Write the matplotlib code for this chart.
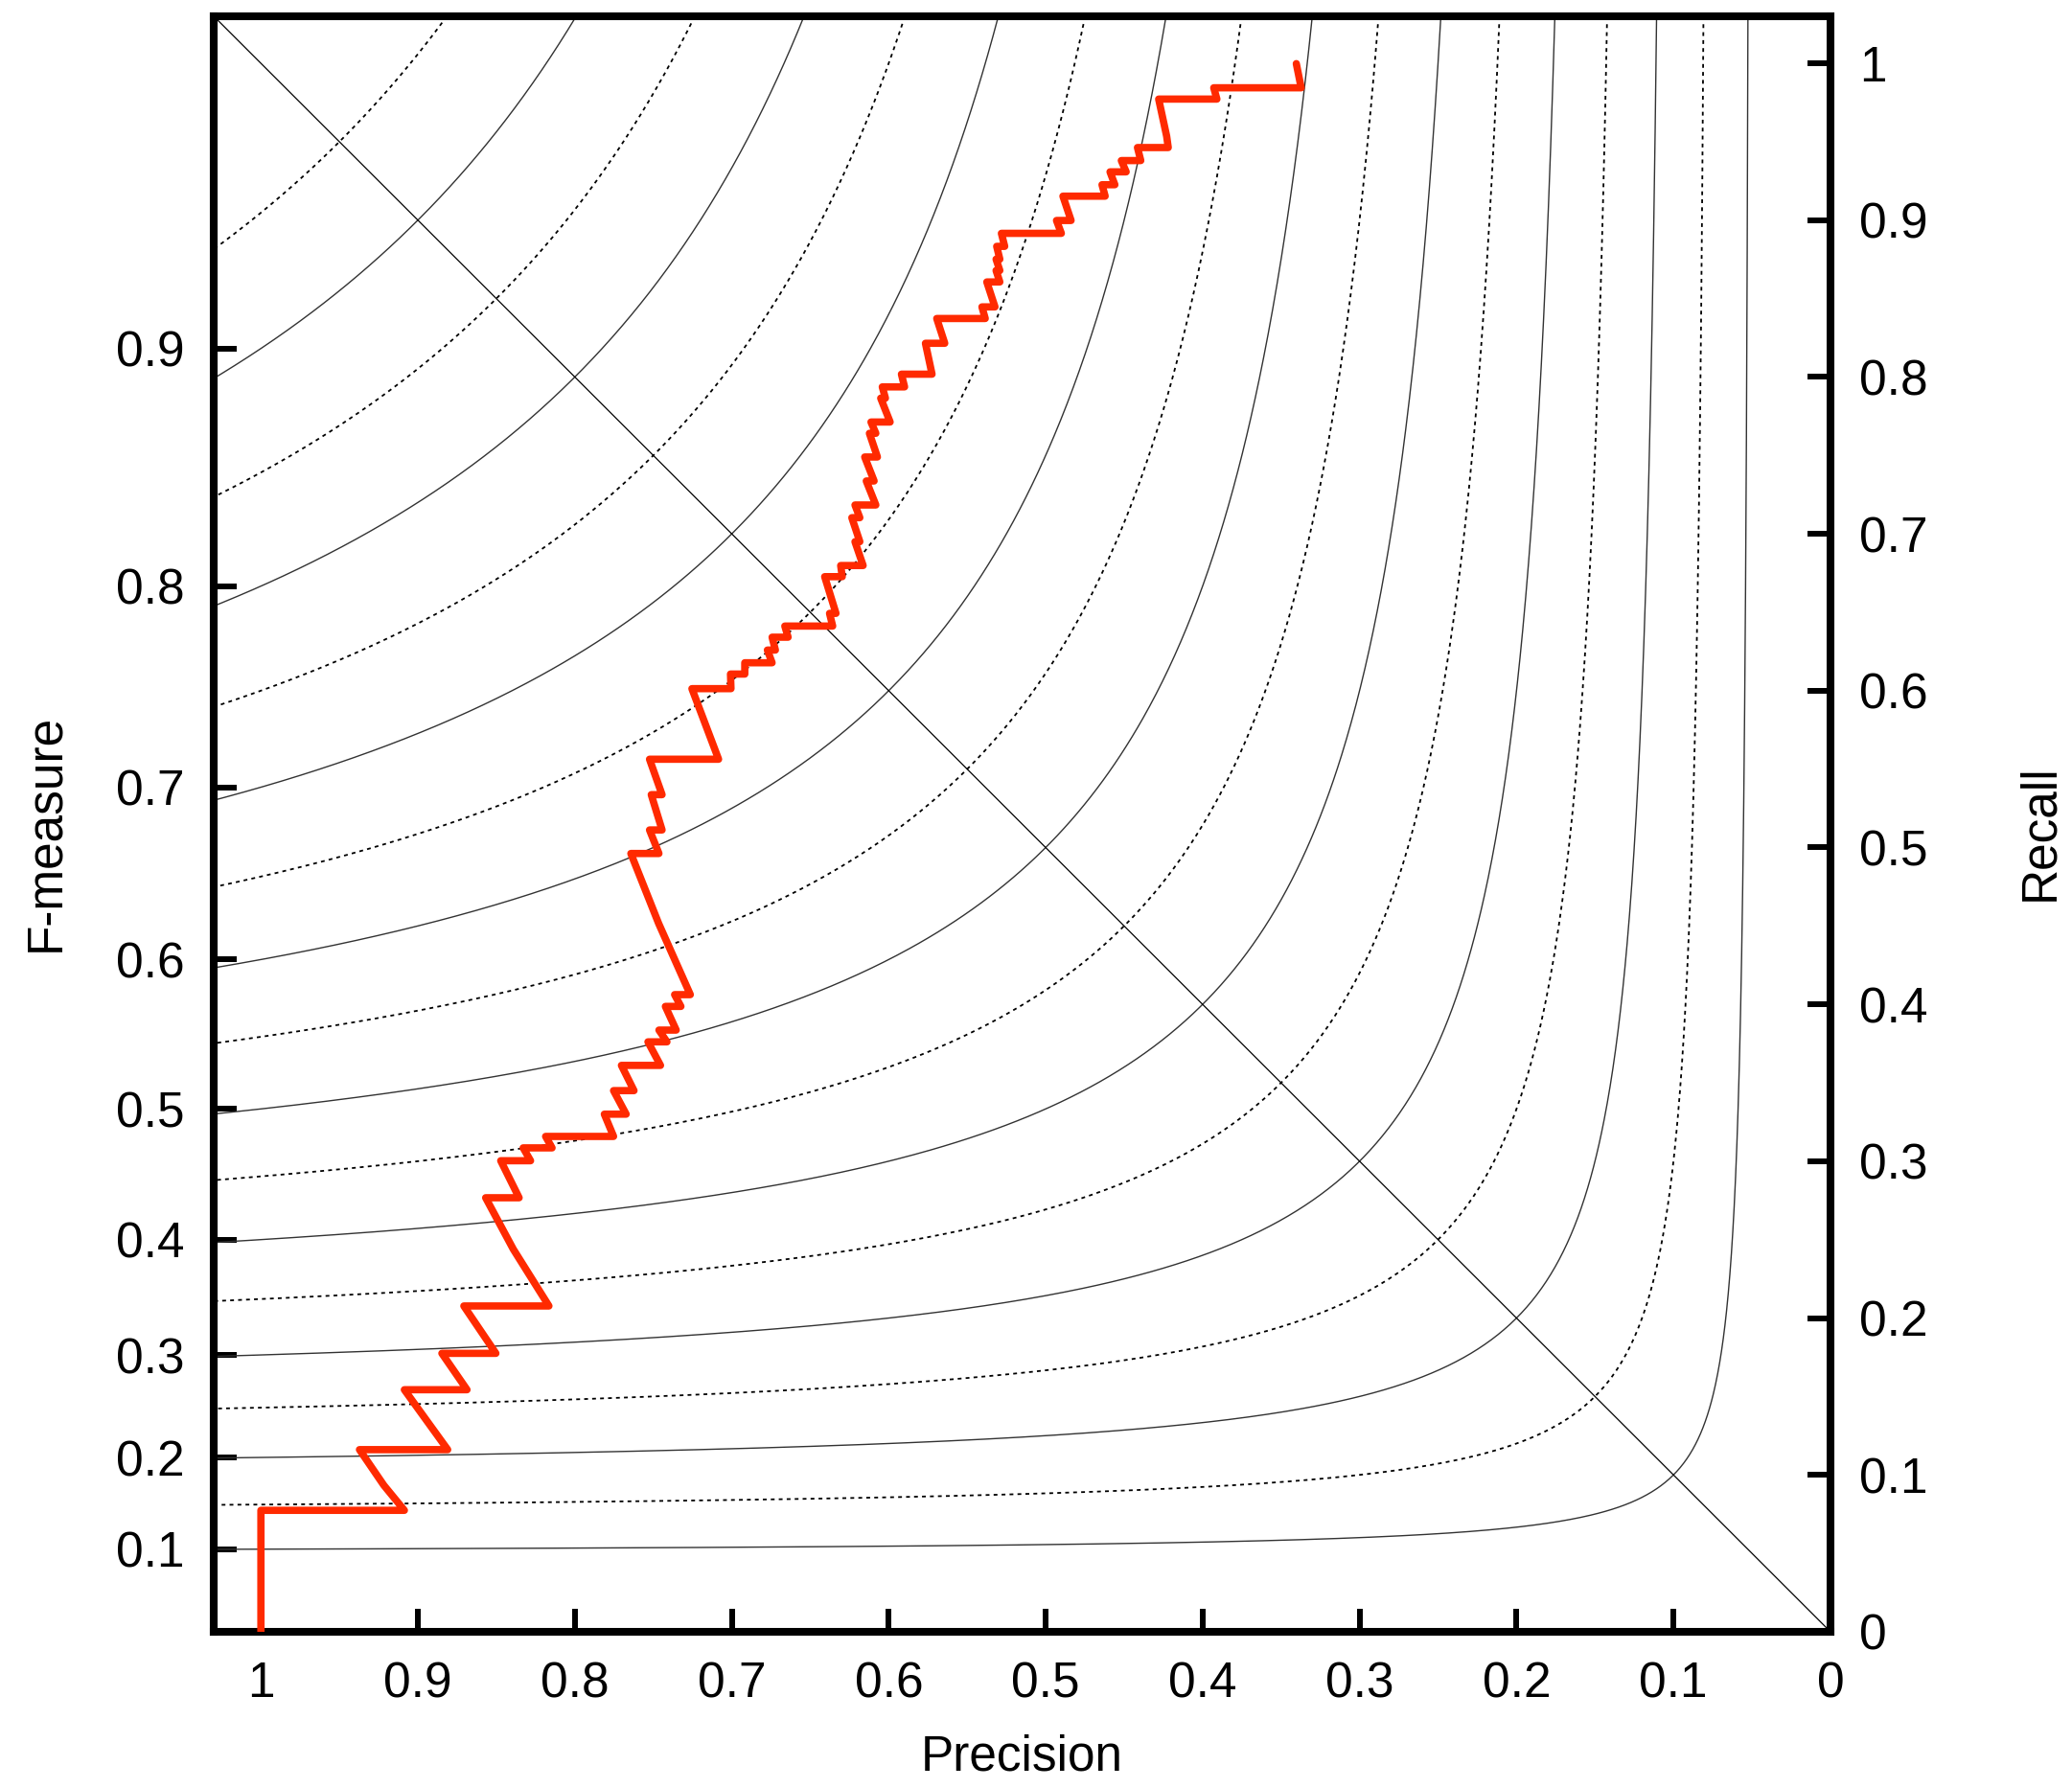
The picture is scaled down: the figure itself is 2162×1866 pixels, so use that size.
import numpy as np
import matplotlib.pyplot as plt

plt.rcParams['font.family'] = ['Liberation Sans', 'DejaVu Sans']

# precision / recall curve
precision = [1.000, 1.000, 0.9086, 0.9217, 0.9372, 0.8810, 0.9086, 0.8687, 0.8847, 0.8503,
             0.8707, 0.8165, 0.8392, 0.8568, 0.8355, 0.8472, 0.8282, 0.8329, 0.8145, 0.8186,
             0.7753, 0.7812, 0.7673, 0.7753, 0.7623, 0.7703, 0.7454, 0.7534, 0.7413, 0.7464,
             0.7354, 0.7423, 0.7324, 0.7364, 0.7264, 0.7466, 0.7643, 0.7464, 0.7524, 0.7444,
             0.7513, 0.7444, 0.7524, 0.7084, 0.7254, 0.7005, 0.7008, 0.6917, 0.6917, 0.6743,
             0.6773, 0.6722, 0.6743, 0.6641, 0.6662, 0.6357, 0.6377, 0.6336, 0.6408, 0.6296,
             0.6306, 0.6163, 0.6215, 0.6184, 0.6235, 0.6184, 0.6215, 0.6082, 0.6143, 0.6093,
             0.6153, 0.6072, 0.6123, 0.6082, 0.6113, 0.5991, 0.6051, 0.6021, 0.6041, 0.5899,
             0.5919, 0.5724, 0.5766, 0.5643, 0.5694, 0.5385, 0.5406, 0.5323, 0.5375, 0.5292,
             0.5316, 0.5292, 0.5316, 0.5292, 0.5312, 0.5261, 0.5282, 0.4900, 0.4931, 0.4838,
             0.4890, 0.4621, 0.4641, 0.4559, 0.4590, 0.4487, 0.4518, 0.4394, 0.4415, 0.4219,
             0.4229, 0.4280, 0.3909, 0.3929, 0.3372, 0.3403]
recall = [0.000, 0.0774, 0.0774, 0.0934, 0.1161, 0.1161, 0.1543, 0.1543, 0.1775, 0.1775,
          0.2077, 0.2077, 0.2439, 0.2767, 0.2767, 0.3003, 0.3003, 0.3085, 0.3085, 0.3158,
          0.3158, 0.3300, 0.3300, 0.3450, 0.3450, 0.3611, 0.3611, 0.3761, 0.3761, 0.3836,
          0.3836, 0.3987, 0.3987, 0.4062, 0.4062, 0.4516, 0.4962, 0.4962, 0.5112, 0.5112,
          0.5337, 0.5337, 0.5563, 0.5563, 0.6013, 0.6013, 0.6106, 0.6106, 0.6178, 0.6178,
          0.6259, 0.6259, 0.6341, 0.6341, 0.6412, 0.6412, 0.6493, 0.6493, 0.6727, 0.6727,
          0.6798, 0.6798, 0.6950, 0.6950, 0.7103, 0.7103, 0.7184, 0.7184, 0.7337, 0.7337,
          0.7490, 0.7490, 0.7641, 0.7641, 0.7713, 0.7713, 0.7865, 0.7865, 0.7937, 0.7937,
          0.8018, 0.8018, 0.8215, 0.8215, 0.8373, 0.8373, 0.8447, 0.8447, 0.8606, 0.8606,
          0.8679, 0.8679, 0.8751, 0.8751, 0.8833, 0.8833, 0.8916, 0.8916, 0.8998, 0.8998,
          0.9153, 0.9153, 0.9226, 0.9226, 0.9308, 0.9308, 0.9380, 0.9380, 0.9463, 0.9463,
          0.9535, 0.9772, 0.9772, 0.9844, 0.9844, 0.9998]

f_solid = [0.1, 0.2, 0.3, 0.4, 0.5, 0.6, 0.7, 0.8, 0.9]
f_dotted = [0.15, 0.25, 0.35, 0.45, 0.55, 0.65, 0.75, 0.85, 0.95]
axis_ticks = [0, 0.1, 0.2, 0.3, 0.4, 0.5, 0.6, 0.7, 0.8, 0.9, 1]
axis_labels = ['0', '0.1', '0.2', '0.3', '0.4', '0.5', '0.6', '0.7', '0.8', '0.9', '1']
f_ticks = [0.1, 0.2, 0.3, 0.4, 0.5, 0.6, 0.7, 0.8, 0.9]
f_labels = ['0.1', '0.2', '0.3', '0.4', '0.5', '0.6', '0.7', '0.8', '0.9']

LIM = 1.03
FS = 37

fig = plt.figure(figsize=(21.62, 18.66), dpi=100)
ax = fig.add_axes([0.1032, 0.0874, 0.7802, 0.9035])


def isoline(f):
    # R = F*P / (2P - F), from top edge down to P = LIM
    pmin = f * LIM / (2 * LIM - f)
    d = np.geomspace(pmin - f / 2, LIM - f / 2, 500)
    p = d + f / 2
    r = f * p / (2 * p - f)
    return p, r


for f in f_solid:
    p, r = isoline(f)
    ax.plot(p, r, color='0.2', lw=1.0)
for f in f_dotted:
    p, r = isoline(f)
    ax.plot(p, r, color='k', lw=1.3, dashes=(2.2, 2.4))

ax.axline((0, 0), slope=1, color='k', lw=0.9)

ax.plot(precision, recall, color='#ff2a00', lw=5.5,
        solid_joinstyle='round', solid_capstyle='round', zorder=5)

ax.set_xlim(LIM, 0)
ax.set_ylim(0, LIM)

for s in ax.spines.values():
    s.set_linewidth(5.8)

ax.set_xticks(axis_ticks)
ax.set_xticklabels(axis_labels)
ax.set_yticks(axis_ticks)
ax.set_yticklabels(axis_labels)
ax.yaxis.tick_right()
ax.yaxis.set_label_position('right')
ax.tick_params(direction='in', length=17, width=4.3, labelsize=FS, pad=22)

ax.set_xlabel('Precision', fontsize=FS)
ax.xaxis.set_label_coords(0.5, -0.0777)
ax.xaxis.label.set_va('center')
ax.set_ylabel('Recall', fontsize=FS, rotation=90)
ax.yaxis.set_label_coords(1.130, 0.4947)
ax.yaxis.label.set_va('center')

sec = ax.secondary_yaxis('left', functions=(lambda r: 2 * r / (1 + r),
                                            lambda f: f / (2 - f)))
sec.set_yticks(f_ticks)
sec.set_yticklabels(f_labels)
sec.tick_params(direction='in', length=17, width=4.3, labelsize=FS, pad=22)
sec.spines['left'].set_linewidth(5.8)
ax.text(-0.1037, 0.4947, 'F-measure', transform=ax.transAxes, fontsize=FS,
        rotation=90, ha='center', va='center')

fig.savefig('out.png', dpi=100)
